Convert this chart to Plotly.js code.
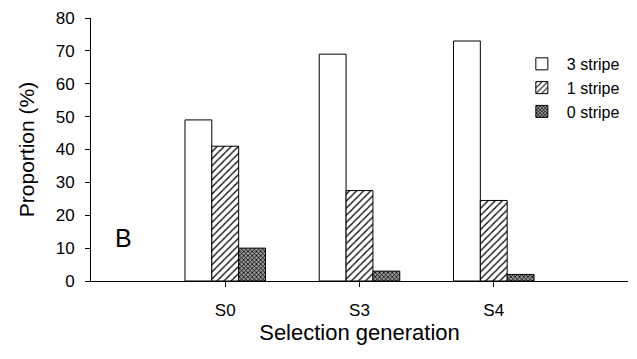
<!DOCTYPE html>
<html><head><meta charset="utf-8">
<script src="https://cdn.plot.ly/plotly-3.0.1.min.js"></script>
<style>html,body{margin:0;padding:0;background:#fff}</style>
</head><body><div id="chart" style="width:637px;height:359px"></div>
<script>
const categories = ["S0", "S3", "S4"];
const catPos = [0, 1, 2];
const stripe3 = [49, 69, 73];
const stripe1 = [41, 27.5, 24.5];
const stripe0 = [10, 3, 2];
const seriesNames = ["3 stripe", "1 stripe", "0 stripe"];
const yTicks = [0, 10, 20, 30, 40, 50, 60, 70, 80];

const FONT = "Liberation Sans, Arial, sans-serif";
const line = {color: "#000", width: 1};
const traces = [
  {type: "bar", name: seriesNames[0], x: catPos, y: stripe3,
   marker: {color: "#fff", line: line}},
  {type: "bar", name: seriesNames[1], x: catPos, y: stripe1,
   marker: {color: "#fff", line: line,
     pattern: {shape: "/", fgcolor: "#000", bgcolor: "#fff", size: 5, solidity: 0.25}}},
  {type: "bar", name: seriesNames[2], x: catPos, y: stripe0,
   marker: {color: "#555", line: line,
     pattern: {shape: "x", fgcolor: "#000", bgcolor: "#999", size: 3, solidity: 0.45}}}
];
const layout = {
  width: 637, height: 359,
  margin: {l: 91, r: 9, t: 18, b: 78},
  paper_bgcolor: "#fff", plot_bgcolor: "#fff",
  font: {family: FONT, color: "#000"},
  barmode: "group", bargap: 0.4, bargroupgap: 0,
  showlegend: true,
  legend: {x: 0.793, y: 0.89, xanchor: "left", yanchor: "top",
    font: {size: 16, family: FONT}, itemwidth: 40, tracegroupgap: 0,
    bgcolor: "rgba(0,0,0,0)", traceorder: "normal"},
  xaxis: {range: [-1, 3], tickvals: catPos, ticktext: categories,
    showgrid: false, zeroline: false, showline: true, linecolor: "#000", linewidth: 1,
    ticks: "outside", ticklen: 5, tickcolor: "#000", ticklabelstandoff: 9,
    tickfont: {size: 17}, title: {text: "Selection generation", font: {size: 22}, standoff: 2}},
  yaxis: {range: [0, 80], tickvals: yTicks,
    showgrid: false, zeroline: false, showline: true, linecolor: "#000", linewidth: 1,
    ticks: "outside", ticklen: 5, tickcolor: "#000", ticklabelstandoff: 7,
    tickfont: {size: 17}, title: {text: "Proportion (%)", font: {size: 21}, standoff: 15}},
  annotations: [{xref: "x", yref: "y", x: -0.76, y: 13, text: "B", showarrow: false,
    font: {size: 25, family: FONT}}]
};
Plotly.newPlot("chart", traces, layout, {displayModeBar: false, staticPlot: true});
</script></body></html>
